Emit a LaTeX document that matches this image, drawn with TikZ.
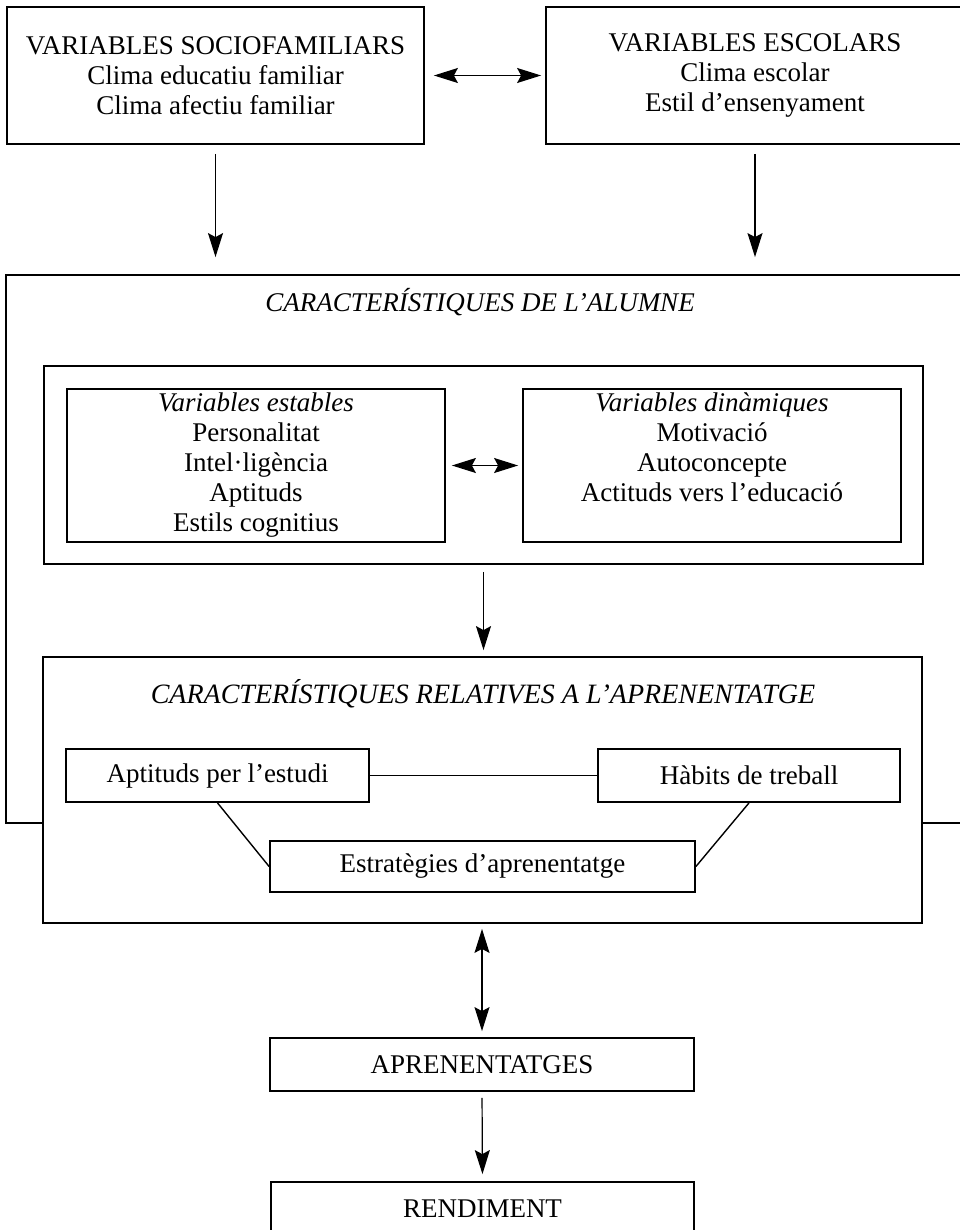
\documentclass[tikz,border=0pt]{standalone}
\usepackage{fontspec}
\setmainfont{Liberation Serif}
\usetikzlibrary{arrows.meta,positioning}

\tikzset{
  box/.style={draw, line width=0.9pt, fill=white, inner sep=0pt, align=center},
  frame/.style={draw, line width=0.9pt, inner sep=0pt},
  txt/.style={inner sep=0pt, align=center},
  arr/.style={line width=0.6pt, -{Stealth[length=12pt,width=7.5pt,inset=2pt]}},
  dblarr/.style={line width=0.6pt, {Stealth[length=12pt,width=7.5pt,inset=2pt]}-{Stealth[length=12pt,width=7.5pt,inset=2pt]}},
  link/.style={line width=0.7pt}
}

\begin{document}
\begin{tikzpicture}[x=0.5pt,y=-0.5pt,font=\fontsize{13.5}{15}\selectfont]
  \useasboundingbox (0,0) rectangle (959,1230);

  \node[box, minimum width=208.5pt, minimum height=68.5pt] (soc) at (215.5,75.5)
    {VARIABLES SOCIOFAMILIARS\\Clima educatiu familiar\\Clima afectiu familiar};
  \node[box, minimum width=209pt, minimum height=68.5pt] (esc) at (755,75.5)
    {VARIABLES ESCOLARS\\Clima escolar\\Estil d’ensenyament};

  \node[frame, minimum width=478pt, minimum height=274pt] (alumne) at (484,549) {};
  \node[txt] (alumnetitle) at (480,302) {\itshape CARACTERÍSTIQUES DE L’ALUMNE};

  \node[frame, minimum width=439.5pt, minimum height=99pt] (vars) at (483.5,465) {};
  \node[box, minimum width=189pt, minimum height=76.5pt] (estables) at (256,465.5) {};
  \node[box, minimum width=189pt, minimum height=76.5pt] (dinamiques) at (712,465.5) {};
  \node[txt, below=2pt of estables.north] (establestxt)
    {\textit{Variables estables}\\Personalitat\\Intel·ligència\\Aptituds\\Estils cognitius};
  \node[txt, below=2pt of dinamiques.north] (dinamiquestxt)
    {\textit{Variables dinàmiques}\\Motivació\\Autoconcepte\\Actituds vers l’educació};

  \node[box, minimum width=439.5pt, minimum height=133pt] (relatives) at (482.5,790) {};
  \node[txt] (relatitle) at (483,694) {\fontsize{14}{15}\selectfont\itshape CARACTERÍSTIQUES RELATIVES A L’APRENENTATGE};
  \node[box, minimum width=151.5pt, minimum height=26.5pt] (aptituds) at (217.5,775.5) {Aptituds per l’estudi};
  \node[box, minimum width=151pt, minimum height=26.5pt] (habits) at (749,775.5) {Hàbits de treball};
  \node[box, minimum width=212.5pt, minimum height=25.5pt] (estrategies) at (482.5,866.5) {Estratègies d’aprenentatge};

  \node[box, minimum width=212pt, minimum height=26.5pt] (apren) at (482,1064.5) {APRENENTATGES};
  \node[box, minimum width=211.5pt, minimum height=26.5pt] (rendiment) at (482.5,1208.5) {RENDIMENT};

  \draw[dblarr, shorten <=4.5pt, shorten >=2pt] (soc) -- (esc);
  \draw[arr, shorten <=4.5pt, shorten >=8.5pt] (soc.south) -- (soc.south |- alumne.north);
  \draw[arr, shorten <=4.5pt, shorten >=8.5pt] (esc.south) -- (esc.south |- alumne.north);
  \draw[dblarr, shorten <=3pt, shorten >=2pt] (estables) -- (dinamiques);
  \draw[arr, shorten <=3.5pt, shorten >=3pt] (vars.south) -- (vars.south |- relatives.north);
  \draw[link] (aptituds) -- (habits);
  \draw[link] (aptituds.south) -- (estrategies.west);
  \draw[link] (habits.south) -- (estrategies.east);
  \draw[dblarr, shorten <=2.5pt, shorten >=3pt] (relatives.south -| apren.north) -- (apren.north);
  \draw[arr, shorten <=3pt, shorten >=3.5pt] (apren.south) -- (rendiment.north);
\end{tikzpicture}
\end{document}
